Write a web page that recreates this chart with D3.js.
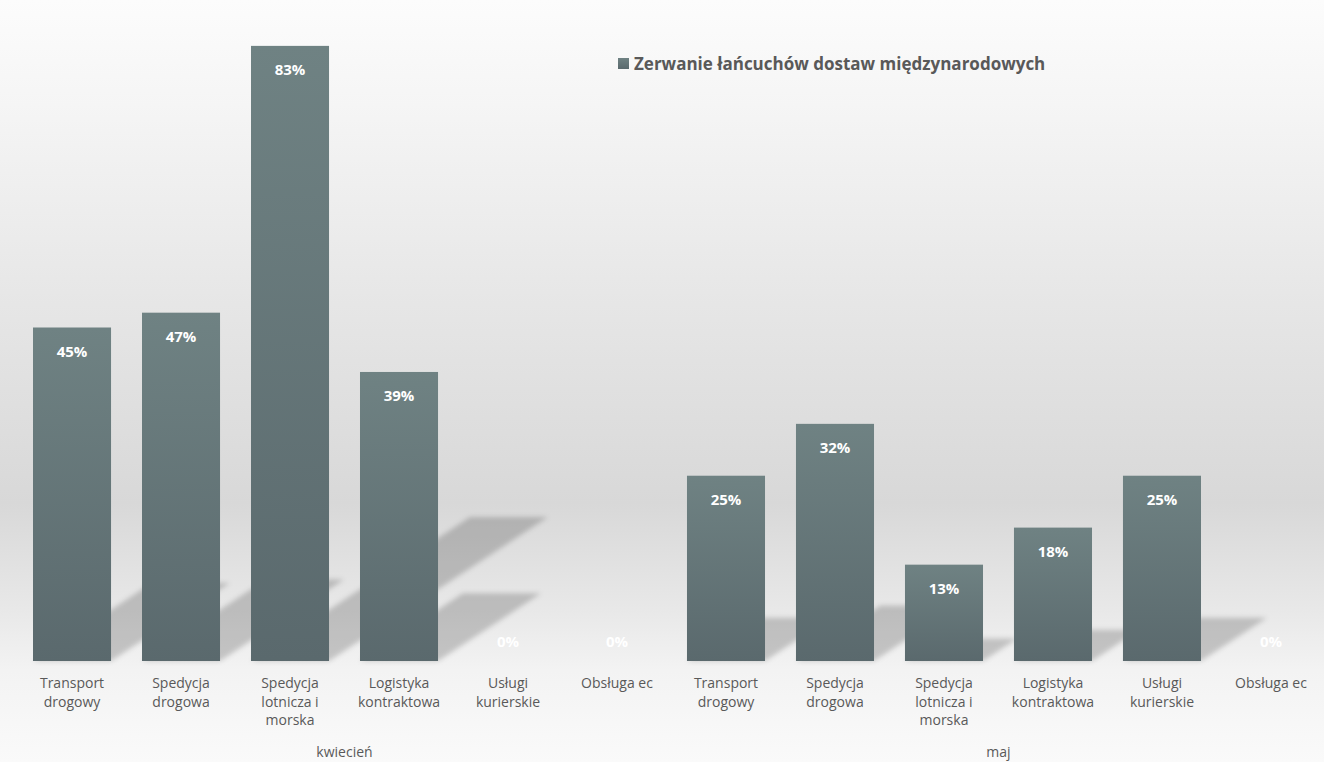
<!DOCTYPE html>
<html>
<head>
<meta charset="utf-8">
<script src="https://cdn.jsdelivr.net/npm/d3@7"></script>
<style>
  html, body { margin: 0; padding: 0; background: #fff; }
  svg { display: block; }
</style>
</head>
<body>
<svg id="chart" width="1324" height="762"></svg>
<script>
// Month groups and the categories shown in each
const months = ["kwiecień", "maj"];
const categories = [
  "Transport drogowy",
  "Spedycja drogowa",
  "Spedycja lotnicza i morska",
  "Logistyka kontraktowa",
  "Usługi kurierskie",
  "Obsługa ec"
];
// How each category label wraps under the axis
const categoryLines = [
  ["Transport", "drogowy"],
  ["Spedycja", "drogowa"],
  ["Spedycja", "lotnicza i", "morska"],
  ["Logistyka", "kontraktowa"],
  ["Usługi", "kurierskie"],
  ["Obsługa ec"]
];
const seriesName = "Zerwanie łańcuchów dostaw międzynarodowych";
const valuesKwiecien = [0.45, 0.47, 0.83, 0.39, 0, 0];
const valuesMaj = [0.25, 0.32, 0.13, 0.18, 0.25, 0];

const rows = [];
months.forEach((m, mi) => {
  const vals = mi === 0 ? valuesKwiecien : valuesMaj;
  categories.forEach((c, ci) => {
    rows.push({ key: m + "|" + c, month: m, cat: ci, value: vals[ci] });
  });
});

const W = 1324, H = 762;
const svg = d3.select("#chart");
const defs = svg.append("defs");

// Background: light at top and bottom, grey band around the lower middle
const bg = defs.append("linearGradient").attr("id", "bgGrad")
  .attr("x1", 0).attr("y1", 0).attr("x2", 0).attr("y2", 1);
[[0, "#fcfcfc"], [0.12, "#f6f6f6"], [0.4, "#e6e6e6"], [0.66, "#d8d8d8"],
 [0.8, "#e8e8e8"], [0.88, "#f3f3f3"], [1, "#fafafa"]]
  .forEach(([o, c]) => bg.append("stop").attr("offset", o).attr("stop-color", c));

// Bar fill: lighter slate at the top, darker at the base
const barGrad = defs.append("linearGradient").attr("id", "barGrad")
  .attr("x1", 0).attr("y1", 0).attr("x2", 0).attr("y2", 1);
barGrad.append("stop").attr("offset", 0).attr("stop-color", "#6f8283");
barGrad.append("stop").attr("offset", 1).attr("stop-color", "#5a696d");

const blur = defs.append("filter").attr("id", "shadowBlur")
  .attr("x", "-20%").attr("y", "-20%").attr("width", "140%").attr("height", "140%");
blur.append("feGaussianBlur").attr("stdDeviation", 2.6);

svg.append("rect").attr("width", W).attr("height", H).attr("fill", "url(#bgGrad)");

// Scales
const x = d3.scaleBand()
  .domain(rows.map(d => d.key))
  .range([33, 1310])
  .paddingInner(0.284)
  .paddingOuter(0);
const y = d3.scaleLinear().domain([0, 0.9]).range([661, -6]);

const base = y(0);
const bw = x.bandwidth();

// Perspective shadows cast up and to the right of each bar
const slantX = 0.356, slantY = 0.234;
svg.append("g").attr("filter", "url(#shadowBlur)")
  .selectAll("path").data(rows.filter(d => d.value > 0)).join("path")
  .attr("d", d => {
    const x0 = x(d.key), x1 = x0 + bw, h = base - y(d.value);
    const dx = h * slantX, dy = h * slantY;
    return `M${x0},${base}L${x1},${base}L${x1 + dx},${base - dy}L${x0 + dx},${base - dy}Z`;
  })
  .attr("fill", "#000").attr("fill-opacity", 0.19);

// Bars
svg.append("g").selectAll("rect").data(rows).join("rect")
  .attr("x", d => x(d.key))
  .attr("y", d => y(d.value))
  .attr("width", bw)
  .attr("height", d => base - y(d.value))
  .attr("fill", "url(#barGrad)");

// Value labels just inside the top of each bar
svg.append("g").selectAll("text").data(rows).join("text")
  .attr("x", d => x(d.key) + bw / 2)
  .attr("y", d => d.value === 0 ? base - 20 : y(d.value) + 23)
  .attr("text-anchor", "middle")
  .attr("dominant-baseline", "central")
  .attr("font-family", "'Open Sans', sans-serif")
  .attr("font-weight", "bold")
  .attr("font-size", 15)
  .attr("fill", "#ffffff")
  .text(d => d3.format(".0%")(d.value));

// Category labels
const catG = svg.append("g")
  .attr("font-family", "'Open Sans', sans-serif")
  .attr("font-size", 14)
  .attr("fill", "#595959");
rows.forEach(d => {
  const t = catG.append("text")
    .attr("x", x(d.key) + bw / 2)
    .attr("y", 688)
    .attr("text-anchor", "middle");
  categoryLines[d.cat].forEach((ln, i) => {
    t.append("tspan").attr("x", x(d.key) + bw / 2).attr("dy", i === 0 ? 0 : 18.5).text(ln);
  });
});

// Month labels centred under each group
months.forEach(m => {
  const keys = rows.filter(d => d.month === m).map(d => d.key);
  const cx = (x(keys[0]) + x(keys[keys.length - 1]) + bw) / 2;
  catG.append("text")
    .attr("x", cx).attr("y", 757)
    .attr("text-anchor", "middle")
    .text(m);
});

// Legend
const lg = svg.append("g");
lg.append("rect").attr("x", 618).attr("y", 58).attr("width", 11).attr("height", 11)
  .attr("fill", "url(#barGrad)");
lg.append("text").attr("x", 634).attr("y", 70)
  .attr("font-family", "'Open Sans', sans-serif")
  .attr("font-weight", "bold")
  .attr("font-size", 17)
  .attr("fill", "#595959")
  .text(seriesName);
</script>
</body>
</html>
